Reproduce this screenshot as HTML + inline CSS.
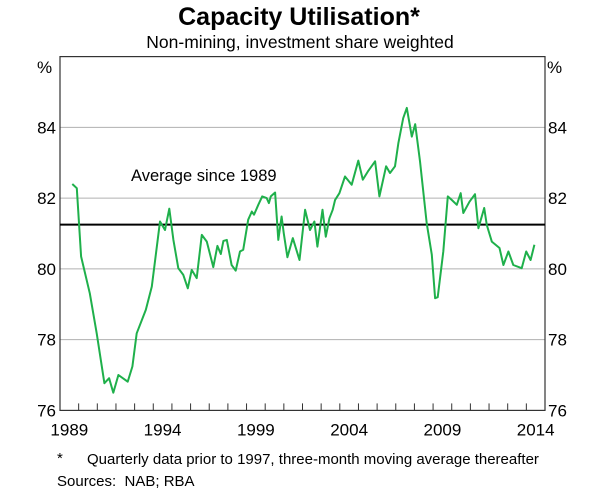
<!DOCTYPE html>
<html><head><meta charset="utf-8">
<style>
body{margin:0;background:#fff;}
svg text{font-family:"Liberation Sans",Arial,sans-serif;fill:#000;}
</style></head>
<body>
<svg id="chart" width="600" height="493" viewBox="0 0 600 493" xmlns="http://www.w3.org/2000/svg">
<text x="299" y="25" text-anchor="middle" font-size="25" font-weight="bold">Capacity Utilisation*</text>
<text x="300" y="48" text-anchor="middle" font-size="17.5">Non-mining, investment share weighted</text>
<g id="grid"></g>
<g id="axes"></g>
<text x="131" y="181" font-size="16.5">Average since 1989</text>
<text x="37" y="73" font-size="17">%</text>
<text x="547" y="73" font-size="17">%</text>
<text x="57" y="463" font-size="15">*</text>
<text x="87" y="464" font-size="15">Quarterly data prior to 1997, three-month moving average thereafter</text>
<text x="57" y="486" font-size="15">Sources:&#160;&#160;NAB; RBA</text>
</svg>
<script>
const years=[1989.66,1989.9,1990.13,1990.6,1990.97,1991.38,1991.63,1991.86,1992.13,1992.63,1992.88,1993.11,1993.6,1993.92,1994.36,1994.63,1994.86,1995.08,1995.34,1995.61,1995.85,1996.06,1996.33,1996.6,1996.87,1997.22,1997.44,1997.62,1997.76,1997.94,1998.2,1998.42,1998.65,1998.82,1999.09,1999.28,1999.4,1999.63,1999.84,2000.08,2000.2,2000.3,2000.53,2000.7,2000.88,2001.0,2001.19,2001.48,2001.84,2002.14,2002.4,2002.64,2002.8,2003.07,2003.25,2003.44,2003.62,2003.75,2003.98,2004.28,2004.64,2004.99,2005.23,2005.5,2005.89,2006.12,2006.48,2006.69,2006.96,2007.14,2007.4,2007.59,2007.86,2008.04,2008.3,2008.66,2008.93,2009.11,2009.25,2009.55,2009.79,2010.0,2010.27,2010.48,2010.62,2010.95,2011.25,2011.43,2011.74,2011.88,2012.15,2012.56,2012.77,2013.04,2013.3,2013.75,2013.99,2014.23,2014.43];
const values=[82.40,82.28,80.35,79.31,78.18,76.77,76.91,76.5,77.0,76.81,77.24,78.18,78.84,79.5,81.34,81.1,81.7,80.82,80.02,79.83,79.45,79.97,79.74,80.96,80.77,80.05,80.65,80.42,80.79,80.82,80.11,79.95,80.49,80.54,81.39,81.62,81.53,81.81,82.05,82.0,81.86,82.05,82.16,80.82,81.48,81.0,80.33,80.87,80.25,81.67,81.1,81.34,80.63,81.67,80.91,81.43,81.67,81.95,82.14,82.61,82.38,83.06,82.52,82.75,83.04,82.05,82.9,82.71,82.9,83.56,84.26,84.55,83.74,84.09,83.04,81.29,80.4,79.17,79.2,80.49,82.05,81.95,81.81,82.14,81.58,81.9,82.11,81.15,81.72,81.24,80.77,80.59,80.11,80.49,80.11,80.02,80.49,80.25,80.68];
const average=[81.25];
const yTicks=[76,78,80,82,84];
const xLabels=[1989,1994,1999,2004,2009,2014];
const L=60,R=545,T=56.6,B=410.4,X0=1989,X1=2015,Y0=76,Y1=86;
const xs=v=>L+(v-X0)/(X1-X0)*(R-L);
const ys=v=>B-(v-Y0)/(Y1-Y0)*(B-T);
const NS="http://www.w3.org/2000/svg";
const svg=document.getElementById('chart');
const grid=document.getElementById('grid');
const axes=document.getElementById('axes');
function mk(tag,attrs,parent){const e=document.createElementNS(NS,tag);for(const k in attrs)e.setAttribute(k,attrs[k]);(parent||svg).appendChild(e);return e;}
yTicks.forEach(v=>{
  if(v>Y0){const g=mk('line',{x1:L,x2:R,y1:ys(v),y2:ys(v),stroke:'#b0b0b0','stroke-width':1},grid);
  
  }
  const t1=mk('text',{x:L-4,y:ys(v)+6,'text-anchor':'end','font-size':17},axes);t1.textContent=v;
  
  
  const t2=mk('text',{x:R+3,y:ys(v)+6,'font-size':17},axes);t2.textContent=v;
  
  
});
const frame=mk('rect',{x:L,y:T,width:R-L,height:B-T,fill:'none',stroke:'#333','stroke-width':1.2},axes);


for(let y=X0+1;y<X1;y++){
  const tk=mk('line',{x1:xs(y),x2:xs(y),y1:B,y2:B-7,stroke:'#333','stroke-width':1},axes);
  
  
}
xLabels.forEach(y=>{
  const t=mk('text',{x:xs(y+0.5),y:B+25,'text-anchor':'middle','font-size':17},axes);t.textContent=y;
  
  
});
const avg=mk('line',{x1:L,x2:R,y1:ys(average[0]),y2:ys(average[0]),stroke:'#000','stroke-width':2});


const d=years.map((y,i)=>(i?'L':'M')+xs(y).toFixed(1)+','+ys(values[i]).toFixed(1)).join('');
const p=mk('path',{d:d,fill:'none',stroke:'#1fb04b','stroke-width':2,'stroke-linejoin':'round'});


</script>
</body></html>
